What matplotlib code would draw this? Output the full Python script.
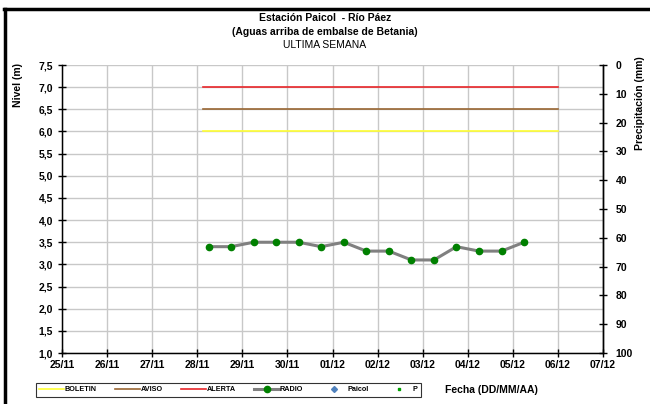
import matplotlib
matplotlib.use("Agg")
import matplotlib.pyplot as plt
import matplotlib.dates as mdates
from matplotlib.lines import Line2D
import pandas as pd

plt.rcParams['font.family'] = ['Liberation Sans', 'DejaVu Sans']

# datos de nivel (RADIO), cada 12 horas
radio_t = ['2012-11-28 06:00', '2012-11-28 18:00', '2012-11-29 06:00', '2012-11-29 18:00',
           '2012-11-30 06:00', '2012-11-30 18:00', '2012-12-01 06:00', '2012-12-01 18:00',
           '2012-12-02 06:00', '2012-12-02 18:00', '2012-12-03 06:00', '2012-12-03 18:00',
           '2012-12-04 06:00', '2012-12-04 18:00', '2012-12-05 06:00']
radio_nivel = [3.4, 3.4, 3.5, 3.5, 3.5, 3.4, 3.5, 3.3, 3.3, 3.1, 3.1, 3.4, 3.3, 3.3, 3.5]

# umbrales
umbral_t = ['2012-11-28 03:00', '2012-12-06 00:00']
boletin = 6.0
aviso = 6.5
alerta = 7.0

x_ini = '2012-11-25'
x_fin = '2012-12-07'

radio_t = pd.to_datetime(radio_t)
umbral_t = pd.to_datetime(umbral_t)

fig = plt.figure(figsize=(6.5, 4.04), dpi=100)
ax = fig.add_axes([0.0954, 0.1262, 0.8323, 0.7129])

ax.plot(umbral_t, [boletin, boletin], color='#FFFF33', lw=1.2, label='BOLETIN')
ax.plot(umbral_t, [aviso, aviso], color='#996633', lw=1.2, label='AVISO')
ax.plot(umbral_t, [alerta, alerta], color='#E8262A', lw=1.2, label='ALERTA')
ax.plot(radio_t, radio_nivel, color='#808080', lw=2.2, marker='o', ms=4.5,
        mfc='#008000', mec='#008000', label='RADIO')
ax.plot([], [], ls='none', marker='D', ms=3, color='#4F81BD', label='Paicol')
ax.plot([], [], ls='none', marker='s', ms=2, color='#00A000', label='P')

ax.set_xlim(pd.Timestamp(x_ini), pd.Timestamp(x_fin))
ax.set_ylim(1.0, 7.5)
ax.set_yticks([1.0 + 0.5 * i for i in range(14)])
ax.set_yticklabels([('%.1f' % (1.0 + 0.5 * i)).replace('.', ',') for i in range(14)])
ax.xaxis.set_major_locator(mdates.DayLocator())
ax.xaxis.set_major_formatter(mdates.DateFormatter('%d/%m'))

ax.grid(True, color='#C8C8C8', lw=1)
ax.set_axisbelow(True)
ax.spines['top'].set_visible(False)
for s in ['left', 'bottom', 'right']:
    ax.spines[s].set_linewidth(1)
ax.tick_params(axis='both', direction='inout', length=6, width=1, labelsize=7.5)
ax.tick_params(axis='x', pad=2)
for lab in ax.get_xticklabels() + ax.get_yticklabels():
    lab.set_fontweight('bold')

ax2 = ax.twinx()
ax2.set_ylim(100, 0)
ax2.set_yticks(range(0, 101, 10))
ax2.tick_params(axis='y', direction='inout', length=6, width=1, labelsize=7.5, pad=6)
for lab in ax2.get_yticklabels():
    lab.set_fontweight('bold')
ax2.spines['top'].set_visible(False)
ax2.spines['right'].set_linewidth(1)

fig.text(0.5, 0.955, 'Estación Paicol  - Río Páez', ha='center', va='center',
         fontsize=7.5, fontweight='bold')
fig.text(0.5, 0.922, '(Aguas arriba de embalse de Betania)', ha='center', va='center',
         fontsize=7.5, fontweight='bold')
fig.text(0.5, 0.888, 'ULTIMA SEMANA', ha='center', va='center', fontsize=7.5)
fig.text(0.027, 0.79, 'Nivel (m)', rotation=90, ha='center', va='center',
         fontsize=7.5, fontweight='bold')
fig.text(0.985, 0.745, 'Precipitación (mm)', rotation=90, ha='center', va='center',
         fontsize=7.5, fontweight='bold')
fig.text(0.685, 0.035, 'Fecha (DD/MM/AA)', ha='left', va='center',
         fontsize=7.5, fontweight='bold')

leg = ax.legend(loc='center', bbox_to_anchor=(0.351, 0.035),
                bbox_transform=fig.transFigure, ncol=6, fontsize=5.2,
                frameon=True, fancybox=False, handlelength=3.4, handletextpad=0.1,
                columnspacing=2.6, borderpad=0.45)
leg.get_frame().set_edgecolor('black')
leg.get_frame().set_linewidth(0.8)
for t in leg.get_texts():
    t.set_fontweight('bold')

# marco negro
fig.add_artist(Line2D([0.008, 0.008], [0.0, 0.978], color='black', lw=2.5))
fig.add_artist(Line2D([0.006, 1.0], [0.978, 0.978], color='black', lw=2.5))

fig.savefig('out.png', dpi=100)
